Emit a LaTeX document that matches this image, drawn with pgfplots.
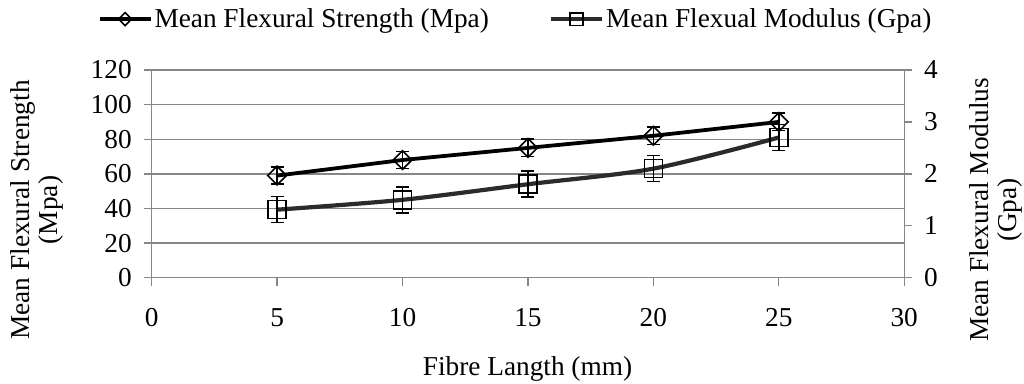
\documentclass[border=0pt]{standalone}
\usepackage{pgfplots}
\pgfplotsset{compat=1.18}
\usepackage{fontspec}
\setmainfont{Liberation Serif}
\definecolor{axisgray}{HTML}{868686}
\definecolor{modgray}{HTML}{2B2B2B}
\newcommand{\chartfont}{\fontsize{27.3pt}{28pt}\selectfont}
\begin{document}
\begin{tikzpicture}[font=\chartfont]
\useasboundingbox (-151.7pt,-105.3pt) rectangle (872.3pt,277.7pt);
\pgfplotsset{
 base/.style={scale only axis, width=752.5pt, height=207.7pt, xmin=0, xmax=30, ymin=0,
   at={(0pt,0pt)}, anchor=south west,
   /pgf/number format/assume math mode=true,
   tick style={draw=axisgray, line width=1.4pt},
   major tick length=8pt, tick align=outside,
   axis line style={draw=axisgray, line width=1.4pt},
   ticklabel style={font=\chartfont},
   legend image code/.code={\draw[mark repeat=2,mark phase=2,##1,every mark/.append style={scale=0.7}] plot coordinates {(0pt,0pt)(25.5pt,0pt)(51pt,0pt)};},
 },
 strength/.style={black, line width=3.8pt, mark=square, mark size=6.6pt,
   mark options={rotate=45, line width=1.6pt, solid, black, fill=none}},
 modulus/.style={modgray, line width=4.2pt, mark=square, mark size=9pt,
   mark options={line width=1.6pt, solid, black, fill=none}},
 ebars/.style={error bars/.cd, y dir=both, y explicit,
   error bar style={line width=1.6pt, black},
   error mark options={rotate=90, mark size=6.5pt, line width=1.6pt, black}},
}
\begin{axis}[base, ymax=120, ytick={0,20,...,120}, xtick={0,5,...,30},
  axis x line*=bottom, axis y line*=left,
  ymajorgrids, grid style={draw=axisgray, line width=1.4pt},
  xticklabel style={yshift=-19pt},
  yticklabel style={xshift=-8.5pt},
  legend style={at={(0.4835,1.245)}, anchor=center, draw=none, fill=none,
    legend columns=2, font=\chartfont,
    /tikz/every even column/.append style={column sep=58pt},
    inner sep=0pt, nodes={inner sep=2pt}},
  clip=false]
\addplot[strength, ebars] coordinates {
 (5,59) +- (0,5)
 (10,68) +- (0,5)
 (15,75) +- (0,5)
 (20,82) +- (0,5)
 (25,90) +- (0,5)
};
\addlegendentry{Mean Flexural Strength (Mpa)}
\addlegendimage{modulus}
\addlegendentry{Mean Flexual Modulus (Gpa)}
\end{axis}
\begin{axis}[base, ymax=4, ytick={0,1,...,4},
  axis x line=none, axis y line*=right,
  yticklabel style={xshift=8.5pt}, clip=false]
\addplot[modulus, smooth, ebars] coordinates {
 (5,1.31) +- (0,0.25)
 (10,1.5) +- (0,0.25)
 (15,1.8) +- (0,0.25)
 (20,2.1) +- (0,0.25)
 (25,2.7) +- (0,0.25)
};
\end{axis}
\node[rotate=90, align=center, font=\chartfont] at (-114.7pt,67.7pt) {Mean Flexural Strength\\(Mpa)};
\node[rotate=90, align=center, font=\chartfont] at (844.3pt,67.7pt) {Mean Flexural Modulus\\(Gpa)};
\node[font=\chartfont] at (375.8pt,-91.5pt) {Fibre Langth (mm)};
\end{tikzpicture}
\end{document}
